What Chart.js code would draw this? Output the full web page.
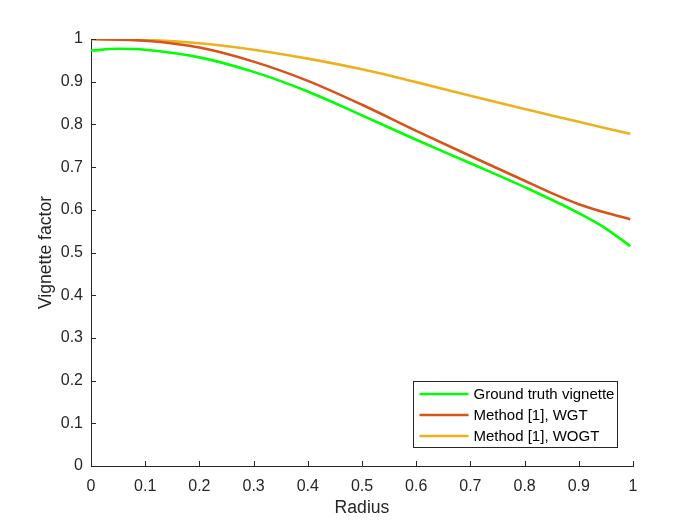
<!DOCTYPE html>
<html>
<head>
<meta charset="utf-8">
<script src="https://cdn.jsdelivr.net/npm/chart.js@4/dist/chart.umd.min.js"></script>
<style>
  html, body { margin: 0; padding: 0; background: #ffffff; }
  #wrap { width: 700px; height: 525px; }
</style>
</head>
<body>
<div id="wrap"><canvas id="c" width="700" height="525"></canvas></div>
<script>
// ---- data ----
const radiusGT    = [0, 0.05, 0.1, 0.2, 0.3, 0.4, 0.5, 0.6, 0.7, 0.8, 0.9, 0.95, 0.995];
const groundTruth = [0.973, 0.977, 0.975, 0.957, 0.923, 0.877, 0.821, 0.764, 0.709, 0.653, 0.592, 0.556, 0.515];

const radiusM    = [0, 0.1, 0.2, 0.3, 0.4, 0.5, 0.6, 0.7, 0.8, 0.85, 0.9, 0.95, 0.995];
const methodWGT  = [1.0, 0.996, 0.980, 0.947, 0.902, 0.846, 0.785, 0.726, 0.668, 0.639, 0.613, 0.593, 0.578];
const methodWOGT = [1.0, 0.998, 0.990, 0.975, 0.954, 0.929, 0.899, 0.867, 0.836, 0.821, 0.806, 0.791, 0.778];

const seriesLabels = ['Ground truth vignette', 'Method [1], WGT', 'Method [1], WOGT'];
const xTicks = [0, 0.1, 0.2, 0.3, 0.4, 0.5, 0.6, 0.7, 0.8, 0.9, 1];
const yTicks = [0, 0.1, 0.2, 0.3, 0.4, 0.5, 0.6, 0.7, 0.8, 0.9, 1];
const xTitle = 'Radius';
const yTitle = 'Vignette factor';

const toPts = (xs, ys) => xs.map((x, i) => ({ x: x, y: ys[i] }));

const AX = '#262626';
const FONT = '"Liberation Sans", Arial, Helvetica, sans-serif';

// inward tick marks (MATLAB style)
const inwardTicks = {
  id: 'inwardTicks',
  afterDraw(chart) {
    const ctx = chart.ctx, xs = chart.scales.x, ys = chart.scales.y;
    const a = chart.chartArea;
    ctx.save();
    ctx.strokeStyle = AX;
    ctx.lineWidth = 1;
    ctx.beginPath();
    xTicks.forEach(v => {
      const p = Math.round(xs.getPixelForValue(v)) + 0.5;
      ctx.moveTo(p, a.bottom); ctx.lineTo(p, a.bottom - 5);
    });
    yTicks.forEach(v => {
      const p = Math.round(ys.getPixelForValue(v)) + 0.5;
      ctx.moveTo(a.left, p); ctx.lineTo(a.left + 5, p);
    });
    ctx.stroke();
    ctx.restore();
  }
};

// legend box inside the plot (south-east)
const insideLegend = {
  id: 'insideLegend',
  afterDraw(chart) {
    const ctx = chart.ctx, a = chart.chartArea;
    const ds = chart.data.datasets;
    const w = 204, rowH = 21, h = 66;
    const x0 = Math.round(a.right - 16 - w) + 0.5;
    const y0 = Math.round(a.bottom - 19 - h) + 0.5;
    ctx.save();
    ctx.fillStyle = '#ffffff';
    ctx.fillRect(x0, y0, w, h);
    ctx.strokeStyle = AX;
    ctx.lineWidth = 1;
    ctx.strokeRect(x0, y0, w, h);
    ctx.font = '15px ' + FONT;
    ctx.textBaseline = 'middle';
    ctx.textAlign = 'left';
    ds.forEach((d, i) => {
      const cy = y0 + 12.5 + i * rowH;
      ctx.strokeStyle = d.borderColor;
      ctx.lineWidth = 2.5;
      ctx.beginPath();
      ctx.moveTo(x0 + 6, cy); ctx.lineTo(x0 + 55, cy);
      ctx.stroke();
      ctx.fillStyle = '#000000';
      ctx.fillText(d.label, x0 + 60, cy + 1);
    });
    ctx.restore();
  }
};

new Chart(document.getElementById('c'), {
  type: 'line',
  data: {
    datasets: [
      { label: seriesLabels[0], data: toPts(radiusGT, groundTruth), borderColor: '#00FF00' },
      { label: seriesLabels[1], data: toPts(radiusM, methodWGT), borderColor: '#D95319' },
      { label: seriesLabels[2], data: toPts(radiusM, methodWOGT), borderColor: '#EDB120' }
    ].map(d => Object.assign(d, {
      borderWidth: 2.6, pointRadius: 0, fill: false,
      cubicInterpolationMode: 'monotone'
    }))
  },
  options: {
    responsive: false,
    animation: false,
    devicePixelRatio: 1,
    layout: { padding: { left: 0, right: 67, top: 39, bottom: 0 } },
    plugins: { legend: { display: false }, tooltip: { enabled: false } },
    scales: {
      x: {
        type: 'linear', min: 0, max: 1,
        afterBuildTicks: s => { s.ticks = xTicks.map(v => ({ value: v })); },
        afterFit: s => { s.height = 59; },
        grid: { display: false, drawTicks: false, tickLength: 0 },
        border: { display: true, color: AX, width: 1 },
        ticks: {
          color: AX, padding: 11, maxRotation: 0, autoSkip: false,
          font: { family: FONT, size: 16 },
          callback: v => String(Math.round(v * 10) / 10)
        },
        title: { display: true, text: xTitle, color: AX, font: { family: FONT, size: 17.6 }, padding: { top: 0, bottom: 6 } }
      },
      y: {
        type: 'linear', min: 0, max: 1,
        afterBuildTicks: s => { s.ticks = yTicks.map(v => ({ value: v })); },
        afterFit: s => { s.width = 91; },
        grid: { display: false, drawTicks: false, tickLength: 0 },
        border: { display: true, color: AX, width: 1 },
        ticks: {
          color: AX, padding: 8, autoSkip: false,
          font: { family: FONT, size: 16 },
          callback: v => String(Math.round(v * 10) / 10)
        },
        title: { display: true, text: yTitle, color: AX, font: { family: FONT, size: 17.6 }, padding: { top: 36, bottom: 0 } }
      }
    }
  },
  plugins: [inwardTicks, insideLegend]
});
</script>
</body>
</html>
